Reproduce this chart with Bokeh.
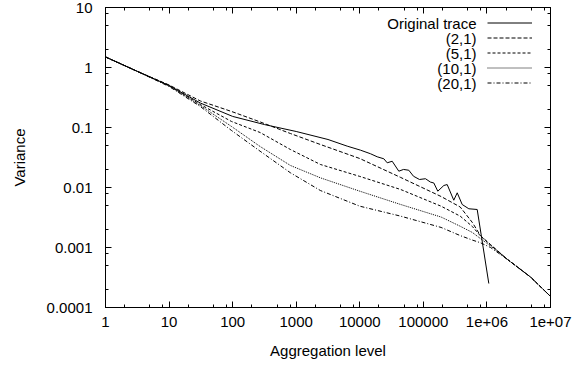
from bokeh.plotting import figure
from bokeh.models import Range1d, FixedTicker, LogAxis, Legend, LegendItem, Label
from bokeh.core.properties import value
from bokeh.embed import file_html
from bokeh.resources import INLINE

FONT = "Liberation Sans"

# ---- tick values / labels ----
x_ticks = [1, 10, 100, 1000, 10000, 100000, 1000000, 10000000]
x_tick_labels = ["1", "10", "100", "1000", "10000", "100000", "1e+06", "1e+07"]
y_ticks = [0.0001, 0.001, 0.01, 0.1, 1, 10]
y_tick_labels = ["0.0001", "0.001", "0.01", "0.1", "1", "10"]

series_names = ["Original trace", "(2,1)", "(5,1)", "(10,1)", "(20,1)"]

# ---- original trace ----
orig_level = [1, 3.2, 10, 31, 100, 316, 1000, 3162, 6340, 10260, 14750, 18800,
              23900, 27000, 32350, 41100, 48750, 59000, 70000, 86900, 108000,
              129500, 146000, 168700, 210000, 237000, 301000, 341000, 408000,
              519000, 703000, 1071000]
orig_var = [1.50, 0.858, 0.501, 0.256, 0.153, 0.112, 0.0858, 0.0631, 0.0489,
            0.0419, 0.0365, 0.0325, 0.0301, 0.0258, 0.0274, 0.0187, 0.0200,
            0.0194, 0.0154, 0.0136, 0.0140, 0.0123, 0.0119, 0.00868, 0.0108,
            0.0112, 0.00614, 0.00816, 0.00521, 0.00442, 0.00430, 0.000251]

# ---- model series ----
model_level = [1, 3.2, 10, 31, 96, 270, 810, 2400, 10000, 44000, 190000, 380000,
               590000, 790000, 1140000, 2110000, 4850000, 10000000]
var_2_1 = [1.50, 0.858, 0.511, 0.277, 0.185, 0.124, 0.0794, 0.0521, 0.0304,
           0.0147, 0.00708, 0.00473, 0.00261, 0.00158, 0.00112, 0.000631,
           0.000322, 0.000153]
var_5_1 = [1.50, 0.858, 0.501, 0.242, 0.126, 0.0826, 0.0430, 0.0242, 0.0153,
           0.00926, 0.00488, 0.00333, 0.00224, 0.00156, 0.00110, 0.000631,
           0.000322, 0.000153]
var_10_1 = [1.50, 0.858, 0.492, 0.233, 0.104, 0.0483, 0.0233, 0.0145, 0.00868,
            0.00521, 0.00322, 0.00226, 0.00178, 0.00141, 0.00106, 0.000631,
            0.000322, 0.000153]
var_20_1 = [1.50, 0.858, 0.483, 0.224, 0.0891, 0.0403, 0.0176, 0.00891, 0.00488,
            0.00333, 0.00216, 0.00158, 0.00133, 0.00120, 0.00100, 0.000631,
            0.000322, 0.000153]

x_minor = [m * t for t in x_ticks[:-1] for m in (2, 5, 8)]
y_minor = [m * t for t in y_ticks[:-1] for m in (2, 5, 8)]

FRAME_W, FRAME_H = 445, 300

p = figure(x_axis_type="log", y_axis_type="log",
           x_range=Range1d(1, 1e7), y_range=Range1d(1e-4, 10),
           frame_width=FRAME_W, frame_height=FRAME_H,
           min_border_left=105, min_border_right=25, min_border_top=7,
           min_border_bottom=55,
           output_backend="svg", toolbar_location=None)
p.xgrid.visible = False
p.ygrid.visible = False
p.outline_line_color = "black"
p.outline_line_width = 1
p.background_fill_color = "white"
p.border_fill_color = "white"


def style_axis(ax, ticks, minor, labels):
    ax.ticker = FixedTicker(ticks=ticks, minor_ticks=minor)
    ax.major_tick_in = 6
    ax.major_tick_out = 0
    ax.minor_tick_in = 3
    ax.minor_tick_out = 0
    ax.axis_line_color = "black"
    ax.major_tick_line_color = "black"
    ax.minor_tick_line_color = "black"
    if labels is None:
        ax.major_label_text_font_size = "1px"
        ax.major_label_text_alpha = 0
        ax.major_label_standoff = 0
    else:
        ax.major_label_overrides = dict(zip(ticks, labels))
        ax.major_label_text_font = FONT
        ax.major_label_text_font_size = "15px"
        ax.major_label_text_color = "black"


xa = p.xaxis[0]
style_axis(xa, x_ticks, x_minor, x_tick_labels)
xa.major_label_standoff = 9
xa.axis_label = "Aggregation level"
xa.axis_label_standoff = 12

ya = p.yaxis[0]
style_axis(ya, y_ticks, y_minor, y_tick_labels)
ya.major_label_standoff = 13
ya.axis_label = "Variance"
ya.axis_label_standoff = 16

for ax in (xa, ya):
    ax.axis_label_text_font = FONT
    ax.axis_label_text_font_size = "15px"
    ax.axis_label_text_font_style = "normal"
    ax.axis_label_text_color = "black"

top_axis = LogAxis()
style_axis(top_axis, x_ticks, x_minor, None)
p.add_layout(top_axis, "above")
right_axis = LogAxis()
style_axis(right_axis, y_ticks, y_minor, None)
p.add_layout(right_axis, "right")

r0 = p.line(orig_level, orig_var, line_color="black", line_width=1)
r1 = p.line(model_level, var_2_1, line_color="black", line_width=1, line_dash="4 2")
r2 = p.line(model_level, var_5_1, line_color="black", line_width=1, line_dash="3 2")
r3 = p.line(model_level, var_10_1, line_color="black", line_width=1, line_dash="1 1")
r4 = p.line(model_level, var_20_1, line_color="black", line_width=1, line_dash="4 2 1 2")
renderers = [r0, r1, r2, r3, r4]

# gnuplot-style key: text right-aligned, sample line to its right
ROW_H = 15
KEY_TOP = 8
legend = Legend(items=[LegendItem(label=value(" "), renderers=[r]) for r in renderers],
                location=(382, FRAME_H - KEY_TOP - ROW_H * len(renderers)),
                glyph_width=45, glyph_height=ROW_H, label_height=ROW_H,
                label_width=1, label_standoff=0, label_text_font_size="2px",
                label_text_alpha=0,
                padding=0, margin=0, spacing=0,
                border_line_color=None, background_fill_alpha=0)
p.add_layout(legend, "center")

for k, name in enumerate(series_names):
    p.add_layout(Label(x=371, y=FRAME_H - KEY_TOP - ROW_H / 2 - ROW_H * k,
                       x_units="screen", y_units="screen", text=name,
                       text_align="right", text_baseline="middle",
                       text_font=FONT, text_font_size="15px", text_color="black"))

open("out.html", "w").write(file_html(p, INLINE))
